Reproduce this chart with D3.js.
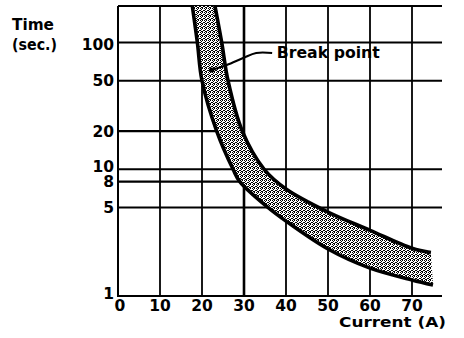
<!DOCTYPE html>
<html><head><meta charset="utf-8">
<script src="https://cdn.jsdelivr.net/npm/d3@7"></script>
<style>
html,body{margin:0;padding:0;background:#fff;}
svg{display:block;}
text{font-family:"DejaVu Sans",Arial,sans-serif;font-weight:bold;fill:#000;}
</style></head>
<body>
<svg id="chart" width="464" height="338"></svg>
<script>
// ---- data ----
const xTicks = [0, 10, 20, 30, 40, 50, 60, 70];
const yTickLabels = [1, 5, 8, 10, 20, 50, 100];
const yFullGrid = [5, 10, 50, 100];
const yPartialGrid = [8, 20];        // drawn only up to breakCurrent
const breakCurrent = 30;
// upper boundary of the band (current A, time s)
const upperCurrent = [22.4, 23.1, 24.7, 26.2, 29.6, 34.8, 40, 50, 60, 70, 74.5];
const upperTime    = [260, 194, 100, 50, 20, 10, 7, 4.6, 3.3, 2.38, 2.2];
// lower boundary of the band
const lowerCurrent = [17.2, 17.7, 18.9, 20.0, 23.5, 27.4, 29.0, 35.7, 40, 50, 60, 70, 75];
const lowerTime    = [260, 194, 100, 50, 20, 10, 8, 5, 3.9, 2.35, 1.66, 1.34, 1.22];
// break point annotation (dot + leader)
const leaderCurrent = [22.3, 25.9, 29.8, 32.9, 36.7];
const leaderTime    = [60.8, 66.6, 75.6, 82.8, 82.8];
const annotationText = "Break point";

// ---- layout ----
const svg = d3.select("#chart");
const pL = 118, pR = 442, pT = 6, pB = 296;
const x = d3.scaleLinear().domain([0, (pR - pL) / 4.2]).range([pL, pR]);
const y = d3.scaleLog().domain([1, Math.pow(10, (pB - pT) / 126.7)]).range([pB, pT]);

// stipple pattern
const defs = svg.append("defs");
const pat = defs.append("pattern").attr("id", "stip").attr("patternUnits", "userSpaceOnUse")
  .attr("width", 4).attr("height", 4);
pat.append("rect").attr("width", 4).attr("height", 4).attr("fill", "#fff");
[[0,0],[2,0],[1,1],[3,2],[0,2],[2,3],[1,3]].forEach(([a,b]) =>
  pat.append("rect").attr("x", a).attr("y", b).attr("width", 1).attr("height", 1).attr("fill", "#000"));
defs.append("clipPath").attr("id", "plotclip").append("rect")
  .attr("x", pL).attr("y", pT).attr("width", pR - pL).attr("height", pB - pT);

// grid
const g = svg.append("g").attr("stroke", "#000").attr("fill", "none");
g.selectAll(".vg").data(xTicks.filter(d => d > 0)).join("line")
  .attr("x1", d => x(d)).attr("x2", d => x(d)).attr("y1", pT).attr("y2", pB)
  .attr("stroke-width", d => d === breakCurrent ? 2.6 : 1.8);
g.selectAll(".hg").data(yFullGrid).join("line")
  .attr("x1", pL).attr("x2", pR).attr("y1", d => y(d)).attr("y2", d => y(d))
  .attr("stroke-width", 2);
g.selectAll(".hp").data(yPartialGrid).join("line")
  .attr("x1", pL).attr("x2", x(breakCurrent)).attr("y1", d => y(d)).attr("y2", d => y(d))
  .attr("stroke-width", 2.2);
// frame: left axis, bottom axis, top border
g.append("line").attr("x1", pL).attr("x2", pL).attr("y1", pT).attr("y2", pB).attr("stroke-width", 2);
g.append("line").attr("x1", pL - 1).attr("x2", pR).attr("y1", pB).attr("y2", pB).attr("stroke-width", 2.2);
g.append("line").attr("x1", pL).attr("x2", pR).attr("y1", pT).attr("y2", pT).attr("stroke-width", 2);

// band
const upperPts = upperCurrent.map((c, i) => [x(c), y(upperTime[i])]);
const lowerPts = lowerCurrent.map((c, i) => [x(c), y(lowerTime[i])]);
const lineGen = d3.line().curve(d3.curveCatmullRom.alpha(0.5));
const bandPath = lineGen(upperPts) + "L" + lineGen(lowerPts.slice().reverse()).slice(1) + "Z";
const band = svg.append("g").attr("clip-path", "url(#plotclip)");
band.append("path").attr("d", bandPath).attr("fill", "url(#stip)").attr("stroke", "none");
band.append("path").attr("d", lineGen(upperPts)).attr("fill", "none").attr("stroke", "#000").attr("stroke-width", 3.6);
band.append("path").attr("d", lineGen(lowerPts)).attr("fill", "none").attr("stroke", "#000").attr("stroke-width", 3.6);

// annotation
const leaderPts = leaderCurrent.map((c, i) => [x(c), y(leaderTime[i])]);
svg.append("path").attr("d", d3.line().curve(d3.curveCatmullRom)(leaderPts))
  .attr("fill", "none").attr("stroke", "#000").attr("stroke-width", 2);
svg.append("circle").attr("cx", leaderPts[0][0]).attr("cy", leaderPts[0][1]).attr("r", 2.6).attr("fill", "#000");
svg.append("text").attr("x", x(37.8)).attr("y", 58.3).attr("font-size", 15)
  .attr("textLength", 103).attr("lengthAdjust", "spacingAndGlyphs").text(annotationText);

// y tick labels
svg.selectAll(".yl").data(yTickLabels).join("text")
  .attr("x", 114).attr("y", d => y(d) + 5.5 + (d === 10 || d === 1 ? -3 : 0) + (d === 100 ? 2 : 0))
  .attr("text-anchor", "end").attr("font-size", 15.5)
  .text(d => d);
// x tick labels
svg.selectAll(".xl").data(xTicks).join("text")
  .attr("x", d => x(d) + (d === 0 ? 2 : 0)).attr("y", 310.5).attr("text-anchor", "middle").attr("font-size", 15.5)
  .text(d => d);

// axis titles
svg.append("text").attr("x", 12).attr("y", 30).attr("font-size", 16).attr("textLength", 42)
  .attr("lengthAdjust", "spacingAndGlyphs").text("Time");
svg.append("text").attr("x", 12).attr("y", 50).attr("font-size", 15).attr("textLength", 45)
  .attr("lengthAdjust", "spacingAndGlyphs").text("(sec.)");
svg.append("text").attr("x", 339).attr("y", 327).attr("font-size", 14.5).attr("textLength", 107)
  .attr("lengthAdjust", "spacingAndGlyphs").text("Current (A)");
</script>
</body></html>
